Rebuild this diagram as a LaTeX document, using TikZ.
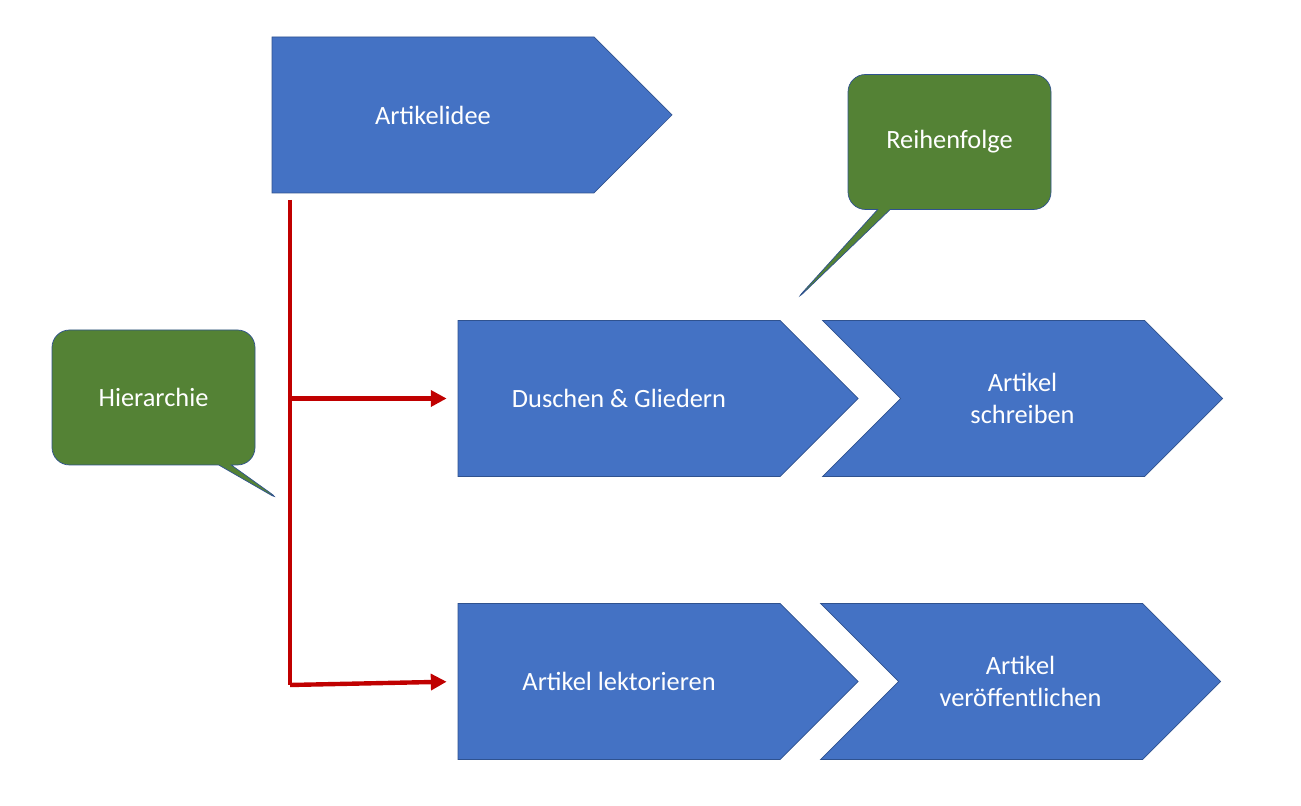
\documentclass[tikz,border=0pt]{standalone}
\usepackage{fontspec}
\setmainfont{Carlito}
\usepackage{tikz}
\usetikzlibrary{shapes.symbols}
\usetikzlibrary{shapes.callouts}
\usetikzlibrary{arrows.meta}
\definecolor{stepblue}{HTML}{4472C4}
\definecolor{stepline}{HTML}{2F528F}
\definecolor{notegreen}{HTML}{548235}
\definecolor{hierred}{HTML}{C00000}
\tikzset{
  phase/.style={signal, signal to=east, signal pointer angle=90, draw=stepline, fill=stepblue,
    text=white, align=center, inner sep=0pt, minimum width=8cm, minimum height=3.12cm,
    font=\fontsize{15}{18}\selectfont},
  chev/.style={phase, signal from=west},
  note/.style={rectangle callout, rounded corners=0.35cm, draw=stepline, fill=notegreen,
    text=white, align=center, minimum width=4.06cm, minimum height=2.7cm,
    font=\fontsize{15}{18}\selectfont},
  hier/.style={draw=hierred, line width=2.5pt}
}
\begin{document}
\begin{tikzpicture}

\useasboundingbox (0,0) rectangle (26.02,16.12);

\node at (8.66,13.82) [phase] (idee) {Artikelidee};
\node at (12.38,8.15) [phase] (duschen) {Duschen \& Gliedern};
\node at (20.45,8.15) [chev] (schreiben) {Artikel\\schreiben};
\node at (12.38,2.49) [phase] (lektor) {Artikel lektorieren};
\node at (20.41,2.49) [chev] (publ) {Artikel\\veröffentlichen};

\coordinate (hiertop) at (5.8,12.12);
\coordinate (hierbot) at (5.8,2.42);
\coordinate (hiermid) at (5.8,8.15);

\node at (3.07,8.17) [note, callout absolute pointer={(5.66,6.08)}] (hierarchie) {Hierarchie};
\node at (18.99,13.28) [note, callout absolute pointer={(15.86,10.06)}] (reihe) {Reihenfolge};

\draw [hier] (hiertop) -- (hierbot);
\begin{scope}[-{Triangle[length=9pt,width=9pt]}]
	\draw [hier, shorten >=0.22cm] (hiermid) -- (duschen.west);
	\draw [hier, shorten >=0.22cm] (hierbot) -- (lektor.west);
\end{scope}

\end{tikzpicture}
\end{document}
